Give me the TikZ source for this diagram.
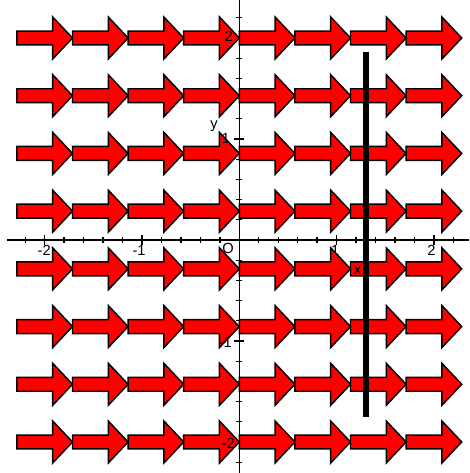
\documentclass[tikz,border=0pt]{standalone}
\usepackage{fontspec}
\setmainfont{Liberation Sans}

\begin{document}
\begin{tikzpicture}[
  x=72.975pt, y=75.75pt,
  field/.style={fill=red, draw=black, line width=1.1pt, line join=miter},
  axis/.style={line width=1pt},
  lbl/.style={font=\fontsize{11}{13}\selectfont, inner sep=0pt},
  curve/.style={line width=4.5pt}
]
  \useasboundingbox (-2.4594,-2.3069) rectangle (2.3608,2.3762);

  % axes
  \coordinate (xl) at (-2.385,0);
  \coordinate (xr) at (2.361,0);
  \coordinate (yb) at (0,-2.307);
  \coordinate (yt) at (0,2.376);
  \draw[axis] (xl) -- (xr);
  \draw[axis] (yb) -- (yt);
  \foreach \k in {-11,...,11} {
    \draw[axis] (\k/5,0) ++(0,-2.25pt) -- ++(0,4.5pt);
    \draw[axis] (0,\k/5) ++(-2.25pt,0) -- ++(4.5pt,0);
  }
  \foreach \k in {-2,-1,1,2} {
    \draw[axis] (\k,0) ++(0,-3.75pt) -- ++(0,7.5pt);
    \draw[axis] (0,\k) ++(-3.75pt,0) -- ++(7.5pt,0);
  }
  \node[lbl, anchor=north] (xm2) at (-2.005,-0.05) {-2};
  \node[lbl, anchor=north] (xm1) at (-1.03,-0.05) {-1};
  \node[lbl, anchor=north] (orig) at (-0.116,-0.03) {O};
  \node[lbl, anchor=north] (xp1) at (0.985,-0.05) {1};
  \node[lbl, anchor=north] (xp2) at (1.975,-0.05) {2};

  % direction field
  \foreach \i in {0,...,7}
    \foreach \j in {0,...,7}
      \draw[field, shift={(-2+4*\i/7,-2+4*\j/7)}]
        (-0.2857,-0.069) -- (0.082,-0.069) -- (0.082,-0.208) -- (0.2857,0)
        -- (0.082,0.208) -- (0.082,0.069) -- (-0.2857,0.069) -- cycle;

  \node[lbl, anchor=east] (yp2) at (-0.065,2.02) {2};
  \node[lbl, anchor=east] (yp1) at (-0.096,1.01) {1};
  \node[lbl] (ylab) at (-0.26,1.13) {y};
  \node[lbl, anchor=east] (ym1) at (-0.075,-1.01) {-1};
  \node[lbl, anchor=east] (ym2) at (-0.044,-2.01) {-2};
  \node[lbl] (xlab) at (1.216,-0.30) {x};

  % solution line
  \coordinate (ctop) at (1.297,1.861);
  \coordinate (cbot) at (1.297,-1.752);
  \draw[curve] (ctop) -- (cbot);
\end{tikzpicture}
\end{document}
